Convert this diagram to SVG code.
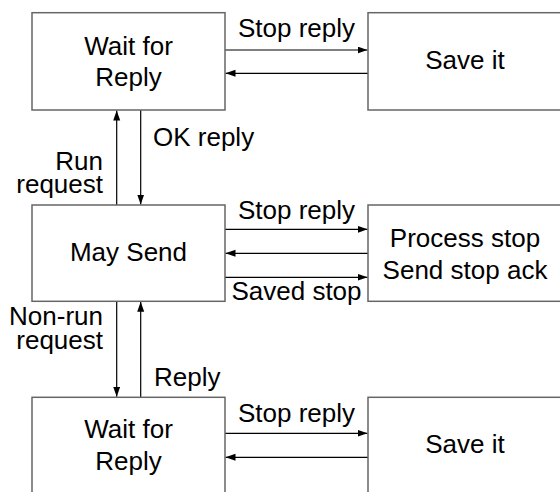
<svg xmlns="http://www.w3.org/2000/svg" width="560" height="492" viewBox="0 0 560 492">
  <style>
    .box { fill: #ffffff; stroke: #666666; stroke-width: 1.5; }
    .lbl { font-family: "Liberation Sans", Arial, sans-serif; font-size: 26px; fill: #000000; }
    .mid { text-anchor: middle; }
    .end { text-anchor: end; }
    .edge { fill: none; stroke: #000000; stroke-width: 1.2; marker-end: url(#head); }
  </style>
  <defs>
    <marker id="head" markerUnits="userSpaceOnUse" markerWidth="11" markerHeight="8" refX="10" refY="3.5" orient="auto">
      <path d="M0,0 L10,3.5 L0,7 z" fill="#000000"/>
    </marker>
  </defs>
  <rect width="560" height="492" fill="#ffffff"/>

  <!-- connectors -->
  <g id="connectors">
    <line class="edge" x1="225" y1="50" x2="367.5" y2="50"/>
    <line class="edge" x1="368" y1="73.3" x2="225.5" y2="73.3"/>
    <line class="edge" x1="116.7" y1="205" x2="116.7" y2="110.5"/>
    <line class="edge" x1="140.7" y1="110" x2="140.7" y2="204.5"/>
    <line class="edge" x1="225" y1="229.3" x2="367.5" y2="229.3"/>
    <line class="edge" x1="368" y1="253.3" x2="225.5" y2="253.3"/>
    <line class="edge" x1="225" y1="277.3" x2="367.5" y2="277.3"/>
    <line class="edge" x1="116.7" y1="301.3" x2="116.7" y2="396.8"/>
    <line class="edge" x1="140.7" y1="397.3" x2="140.7" y2="301.8"/>
    <line class="edge" x1="225" y1="433.3" x2="367.5" y2="433.3"/>
    <line class="edge" x1="368" y1="457.3" x2="225.5" y2="457.3"/>

    <text class="lbl mid" x="296.5" y="37">Stop reply</text>
    <text class="lbl" x="153" y="145.7">OK reply</text>
    <text class="lbl end" x="103" y="170">Run</text>
    <text class="lbl end" x="103" y="193.3">request</text>
    <text class="lbl mid" x="296.5" y="218.5">Stop reply</text>
    <text class="lbl mid" x="296.5" y="300">Saved stop</text>
    <text class="lbl end" x="103" y="325">Non-run</text>
    <text class="lbl end" x="103" y="348.5">request</text>
    <text class="lbl" x="154" y="386">Reply</text>
    <text class="lbl mid" x="296.5" y="421.5">Stop reply</text>
  </g>

  <!-- nodes -->
  <g id="wait-top">
    <rect class="box" x="32" y="12.7" width="193" height="97.3"/>
    <text class="lbl mid" x="128.5" y="55">Wait for</text>
    <text class="lbl mid" x="128.5" y="86">Reply</text>
  </g>
  <g id="save-top">
    <rect class="box" x="368" y="12.7" width="193" height="97.3"/>
    <text class="lbl mid" x="465" y="69">Save it</text>
  </g>
  <g id="may-send">
    <rect class="box" x="32" y="205" width="193" height="96.3"/>
    <text class="lbl mid" x="128.5" y="261">May Send</text>
  </g>
  <g id="process-stop">
    <rect class="box" x="368" y="205" width="193" height="96.3"/>
    <text class="lbl mid" x="465" y="246.7">Process stop</text>
    <text class="lbl mid" x="465" y="279">Send stop ack</text>
  </g>
  <g id="wait-bottom">
    <rect class="box" x="32" y="397.3" width="193" height="97.3"/>
    <text class="lbl mid" x="128.5" y="438.3">Wait for</text>
    <text class="lbl mid" x="128.5" y="470">Reply</text>
  </g>
  <g id="save-bottom">
    <rect class="box" x="368" y="397.3" width="193" height="97.3"/>
    <text class="lbl mid" x="465" y="453">Save it</text>
  </g>
</svg>
